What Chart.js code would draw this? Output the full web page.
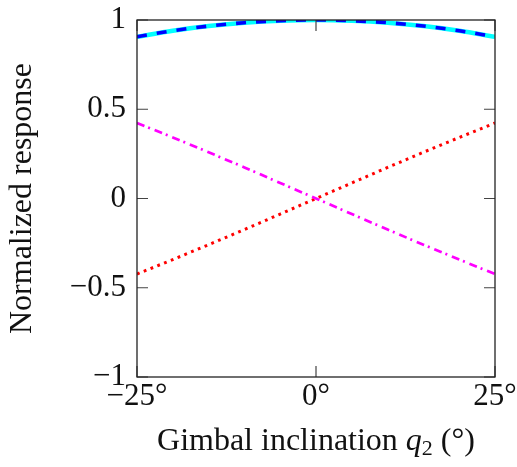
<!DOCTYPE html>
<html>
<head>
<meta charset="utf-8">
<script src="https://cdn.jsdelivr.net/npm/chart.js@4.4.1/dist/chart.umd.min.js"></script>
<style>
html,body{margin:0;padding:0;background:#fff;}
#wrap{width:517px;height:467px;position:relative;}
</style>
</head>
<body>
<div id="wrap"><canvas id="c" width="517" height="467"></canvas></div>
<script>
// Gimbal inclination q2 (degrees)
const inclination = [-25, -20, -15, -10, -5, 0, 5, 10, 15, 20, 25];
// Normalized responses
const cosResponse = [0.906, 0.940, 0.966, 0.985, 0.996, 1.000, 0.996, 0.985, 0.966, 0.940, 0.906];
const sinResponse = [-0.423, -0.342, -0.259, -0.174, -0.087, 0.000, 0.087, 0.174, 0.259, 0.342, 0.423];
const negSinResponse = [0.423, 0.342, 0.259, 0.174, 0.087, 0.000, -0.087, -0.174, -0.259, -0.342, -0.423];
const xTicks = [-25, 0, 25];
const yTicks = [-1, -0.5, 0, 0.5, 1];

const FONT = "'Liberation Serif', 'DejaVu Serif', serif";
const FS = 31;
const TS = 32;

function pts(ys){ return inclination.map((x,i)=>({x:x, y:ys[i]})); }

function noPad(s){ s.paddingTop = 0; s.paddingBottom = 0; s.paddingLeft = 0; s.paddingRight = 0; }

const frameAndTicks = {
  id: 'frameAndTicks',
  afterDatasetsDraw(chart){
    const {ctx, chartArea:a, scales:{x, y}} = chart;
    ctx.save();
    ctx.strokeStyle = '#444';
    ctx.lineWidth = 1.2;
    const tl = 11;
    ctx.beginPath();
    xTicks.forEach(v=>{
      const px = x.getPixelForValue(v);
      ctx.moveTo(px, a.bottom); ctx.lineTo(px, a.bottom - tl);
      ctx.moveTo(px, a.top); ctx.lineTo(px, a.top + tl);
    });
    yTicks.forEach(v=>{
      const py = y.getPixelForValue(v);
      ctx.moveTo(a.left, py); ctx.lineTo(a.left + tl, py);
      ctx.moveTo(a.right, py); ctx.lineTo(a.right - tl, py);
    });
    ctx.stroke();
    ctx.strokeStyle = '#222';
    ctx.lineWidth = 1.3;
    ctx.strokeRect(a.left, a.top, a.right - a.left, a.bottom - a.top);
    ctx.restore();
  },
  afterDraw(chart){
    const {ctx, chartArea:a} = chart;
    ctx.save();
    ctx.fillStyle = '#111';
    // x title
    const parts = [
      {t:'Gimbal inclination ', f:`${TS}px ${FONT}`, dy:0},
      {t:'q', f:`italic ${TS}px ${FONT}`, dy:0},
      {t:'2', f:`${Math.round(TS*0.7)}px ${FONT}`, dy:5},
      {t:' (°)', f:`${TS}px ${FONT}`, dy:0}
    ];
    let total = 0;
    parts.forEach(p=>{ ctx.font = p.f; p.w = ctx.measureText(p.t).width; total += p.w; });
    let cx = (a.left + a.right)/2 - total/2;
    ctx.textBaseline = 'alphabetic';
    ctx.textAlign = 'left';
    parts.forEach(p=>{ ctx.font = p.f; ctx.fillText(p.t, cx, 450 + p.dy); cx += p.w; });
    // y title
    ctx.translate(31, (a.top + a.bottom)/2);
    ctx.rotate(-Math.PI/2);
    ctx.font = `${TS}px ${FONT}`;
    ctx.textAlign = 'center';
    ctx.fillText('Normalized response', 0, 0);
    ctx.restore();
  }
};

new Chart(document.getElementById('c'), {
  type: 'line',
  data: {
    datasets: [
      {data: pts(cosResponse), borderColor:'#0000ff', borderWidth:3.6, borderDash:[10,10], pointRadius:0, cubicInterpolationMode:'monotone'},
      {data: pts(cosResponse), borderColor:'#00ffff', borderWidth:4.6, pointRadius:0, cubicInterpolationMode:'monotone'},
      {data: pts(negSinResponse), borderColor:'#ff00ff', borderWidth:2.7, borderDash:[8,4,2,5], pointRadius:0, tension:0},
      {data: pts(sinResponse), borderColor:'#ff0000', borderWidth:3, borderDash:[2.8,4.5], pointRadius:0, tension:0}
    ]
  },
  options: {
    responsive: false,
    animation: false,
    devicePixelRatio: 1,
    layout: {padding: {top: 20, right: 22, left: 0, bottom: 0}},
    plugins: {legend:{display:false}, tooltip:{enabled:false}},
    scales: {
      x: {
        type: 'linear', min: -25, max: 25,
        afterFit(s){ s.height = 90; noPad(s); },
        afterBuildTicks(s){ s.ticks = xTicks.map(v=>({value:v})); },
        grid: {display:false, drawTicks:false},
        border: {display:false},
        ticks: {
          padding: 3, color:'#111', maxRotation:0, autoSkip:false,
          font: {family: FONT, size: FS, lineHeight: 1.1},
          callback: v => (v < 0 ? '\u2212' + Math.abs(v) : v) + '°'
        }
      },
      y: {
        type: 'linear', min: -1, max: 1,
        afterFit(s){ s.width = 137; noPad(s); },
        afterBuildTicks(s){ s.ticks = yTicks.map(v=>({value:v})); },
        grid: {display:false, drawTicks:false},
        border: {display:false},
        ticks: {
          padding: 11, color:'#111', autoSkip:false,
          font: {family: FONT, size: FS},
          callback: v => v < 0 ? '\u2212' + Math.abs(v) : String(v)
        }
      }
    }
  },
  plugins: [frameAndTicks]
});
</script>
</body>
</html>
